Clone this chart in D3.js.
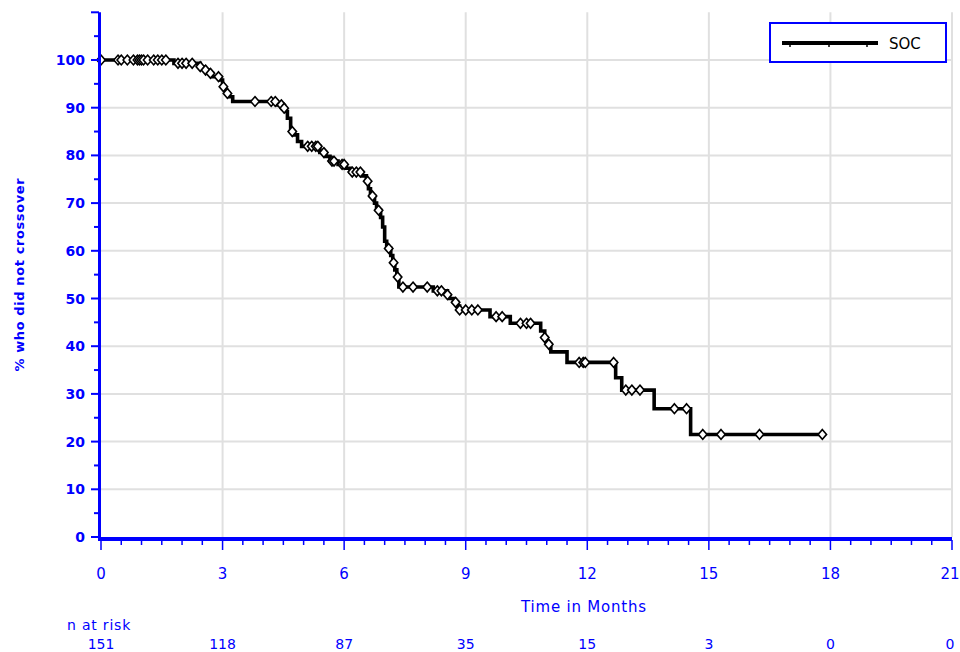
<!DOCTYPE html>
<html>
<head>
<meta charset="utf-8">
<script src="https://cdn.jsdelivr.net/npm/d3@7/dist/d3.min.js"></script>
<style>
  html, body { margin: 0; padding: 0; background: #fff; }
  svg { display: block; }
  text { font-family: "DejaVu Sans", "Liberation Sans", sans-serif; }
</style>
</head>
<body>
<svg id="chart" width="960" height="652"></svg>
<script>
// Kaplan-Meier estimate for the SOC arm: event times (months) and survival (%) after each drop
const eventTimes = [1.8, 2.45, 2.55, 2.65, 2.75, 2.95, 3.0, 3.05, 3.1, 3.15, 3.25,
  4.35, 4.5, 4.55, 4.6, 4.68, 4.75, 4.85, 4.95,
  5.4, 5.55, 5.65, 5.85, 6.05, 6.15,
  6.45, 6.55, 6.6, 6.65, 6.75, 6.8, 6.9, 6.95, 7.0, 7.05, 7.15, 7.2, 7.25, 7.3, 7.35,
  8.2, 8.55, 8.6, 8.7, 8.8, 8.85,
  9.6, 10.1, 10.85, 10.95, 11.0, 11.1, 11.5, 12.7, 12.85, 13.65, 14.55];
const survival = [99.3, 98.6, 97.9, 97.2, 96.5, 95.8, 94.4, 93.7, 93.0, 92.3, 91.3,
  90.6, 89.9, 89.2, 87.8, 85.0, 84.3, 82.9, 81.9,
  80.6, 79.8, 78.8, 78.1, 77.3, 76.5,
  75.7, 74.6, 73.0, 71.5, 70.0, 68.5, 67.0, 65.0, 62.0, 60.5, 59.0, 57.5, 56.0, 54.5, 52.4,
  51.6, 50.8, 50.0, 49.2, 48.4, 47.6,
  46.2, 44.8, 43.2, 41.8, 40.4, 38.8, 36.6, 33.4, 30.8, 26.9, 21.5];
// Censored observations (months)
const censorTimes = [0, 0.42, 0.5, 0.65, 0.8, 0.9, 0.95, 1.0, 1.05, 1.15, 1.3, 1.4, 1.5, 1.6,
  1.9, 2.0, 2.1, 2.25, 2.45, 2.58, 2.7, 2.9, 3.02, 3.12,
  3.8, 4.2, 4.3, 4.45, 4.52, 4.72, 5.1, 5.2, 5.3, 5.35, 5.5, 5.7, 5.75, 5.95, 6.0, 6.2, 6.3, 6.4,
  6.58, 6.7, 6.85, 7.1, 7.22, 7.32, 7.45, 7.7, 8.05, 8.3, 8.4, 8.55,
  8.75, 8.85, 9.0, 9.15, 9.3, 9.75, 9.9, 10.35, 10.5, 10.6, 10.95, 11.05,
  11.8, 11.9, 11.95, 12.65, 12.95, 13.1, 13.3, 14.15, 14.45, 14.85, 15.3, 16.25, 17.8];
const lastFollowUp = 17.8;

const xTicks = [0, 3, 6, 9, 12, 15, 18, 21];
const yTicks = [0, 10, 20, 30, 40, 50, 60, 70, 80, 90, 100];
const atRisk = [151, 118, 87, 35, 15, 3, 0, 0];
const seriesName = "SOC";

const blue = "#0000ff";
const svg = d3.select("#chart");

const x = d3.scaleLinear().domain([0, 21]).range([101, 952]);
const y = d3.scaleLinear().domain([0, 110]).range([537, 12.3]);

// grid
const grid = svg.append("g").attr("stroke", "#e0e0e0").attr("stroke-width", 2);
grid.selectAll(".gx").data(xTicks.filter(d => d > 0)).join("line")
  .attr("x1", d => x(d)).attr("x2", d => x(d)).attr("y1", y(110)).attr("y2", y(0));
grid.selectAll(".gy").data(yTicks.filter(d => d > 0)).join("line")
  .attr("x1", x(0)).attr("x2", x(21)).attr("y1", d => y(d)).attr("y2", d => y(d));

// step curve
const pts = [[0, 100]].concat(eventTimes.map((t, i) => [t, survival[i]]));
pts.push([lastFollowUp, survival[survival.length - 1]]);
const survAt = t => {
  let s = 100;
  eventTimes.forEach((e, i) => { if (e <= t) s = survival[i]; });
  return s;
};

svg.append("path")
  .datum(pts)
  .attr("fill", "none")
  .attr("stroke", "#000")
  .attr("stroke-width", 3.6)
  .attr("stroke-linejoin", "miter")
  .attr("d", d3.line().x(d => x(d[0])).y(d => y(d[1])).curve(d3.curveStepAfter));

// censor marks
const diamond = d3.symbol().type(d3.symbolDiamond2).size(50);
svg.append("g").selectAll("path").data(censorTimes).join("path")
  .attr("transform", t => `translate(${x(t)},${y(survAt(t))}) scale(0.95,1.1)`)
  .attr("d", diamond)
  .attr("fill", "#fff")
  .attr("stroke", "#000")
  .attr("stroke-width", 1.6);

// y axis
const yAxis = svg.append("g");
yAxis.append("line").attr("x1", 99.5).attr("x2", 99.5).attr("y1", y(110)).attr("y2", y(0) + 2)
  .attr("stroke", blue).attr("stroke-width", 3);
yAxis.selectAll(".ym").data(d3.range(0, 111, 5)).join("line")
  .attr("x1", d => d % 10 === 0 ? 91 : 94).attr("x2", 99)
  .attr("y1", d => y(d)).attr("y2", d => y(d))
  .attr("stroke", blue).attr("stroke-width", 2);
yAxis.selectAll("text").data(yTicks).join("text")
  .attr("x", 85).attr("y", d => y(d)).attr("dy", "0.36em")
  .attr("text-anchor", "end").attr("fill", blue)
  .attr("font-size", 14).attr("font-weight", "bold")
  .text(d => d);
svg.append("text")
  .attr("transform", `translate(24,${(y(0) + y(110)) / 2}) rotate(-90)`)
  .attr("text-anchor", "middle").attr("fill", blue).attr("font-size", 13)
  .attr("font-weight", "bold").attr("letter-spacing", 0.6)
  .text("% who did not crossover");

// x axis
const xAxis = svg.append("g");
xAxis.append("line").attr("x1", 98).attr("x2", x(21)).attr("y1", 539).attr("y2", 539)
  .attr("stroke", blue).attr("stroke-width", 4);
xAxis.selectAll(".xm").data(d3.range(0, 42.5, 1).map(d => d / 2)).join("line")
  .attr("x1", d => x(d)).attr("x2", d => x(d))
  .attr("y1", 540).attr("y2", d => d % 3 === 0 ? 550 : 545)
  .attr("stroke", blue).attr("stroke-width", 1.5);
xAxis.selectAll("text").data(xTicks).join("text")
  .attr("x", (d, i) => i === xTicks.length - 1 ? x(d) - 2 : x(d)).attr("y", 579)
  .attr("text-anchor", "middle").attr("fill", blue).attr("font-size", 15)
  .text(d => d);
svg.append("text")
  .attr("x", 584).attr("y", 612)
  .attr("text-anchor", "middle").attr("fill", blue).attr("font-size", 15)
  .attr("letter-spacing", 0.8)
  .text("Time in Months");

// number at risk
svg.append("text").attr("x", 67).attr("y", 630).attr("fill", blue).attr("font-size", 14)
  .attr("letter-spacing", 0.8)
  .text("n at risk");
svg.append("g").selectAll("text").data(atRisk).join("text")
  .attr("x", (d, i) => i === atRisk.length - 1 ? x(xTicks[i]) - 2 : x(xTicks[i])).attr("y", 649)
  .attr("text-anchor", "middle").attr("fill", blue).attr("font-size", 14)
  .text(d => d);

// legend
const lg = svg.append("g");
lg.append("rect").attr("x", 770).attr("y", 23).attr("width", 176).attr("height", 39)
  .attr("fill", "#fff").attr("stroke", blue).attr("stroke-width", 2);
lg.append("line").attr("x1", 782).attr("x2", 878).attr("y1", 43).attr("y2", 43)
  .attr("stroke", "#000").attr("stroke-width", 4);
lg.selectAll(".lt").data([790, 829, 867]).join("line")
  .attr("x1", d => d).attr("x2", d => d).attr("y1", 43).attr("y2", 47)
  .attr("stroke", "#000").attr("stroke-width", 1.5);
lg.append("text").attr("x", 889).attr("y", 49).attr("fill", "#000").attr("font-size", 15)
  .text(seriesName);
</script>
</body>
</html>
